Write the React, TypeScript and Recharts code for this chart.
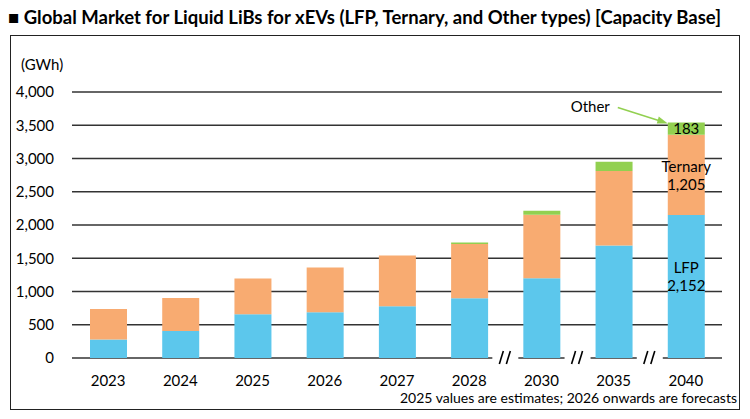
// @ts-nocheck
import { BarChart, Bar, XAxis, YAxis, CartesianGrid, LabelList } from 'recharts';

const years = ['2023', '2024', '2025', '2026', '2027', '2028', '2030', '2035', '2040'];
const lfp = [277, 406, 658, 688, 778, 899, 1200, 1692, 2152];
const ternary = [461, 497, 537, 673, 764, 817, 953, 1119, 1205];
const other = [0, 0, 0, 0, 0, 21, 60, 140, 183];
const yTicks = [0, 500, 1000, 1500, 2000, 2500, 3000, 3500, 4000];
const breakBefore = ['2030', '2035', '2040'];
const labelledYear = '2040';

const FONT = 'Lato, "Open Sans", sans-serif';
const BLUE = '#5CC7EC';
const ORANGE = '#F8AB71';
const GREEN = '#92D050';
const GRID = '#333';

// only the last year carries the in-bar labels
const data = years.map((year, i) => ({
  year,
  lfp: lfp[i],
  ternary: ternary[i],
  other: other[i],
  lfpNote: year === labelledYear ? lfp[i] : undefined,
  ternaryNote: year === labelledYear ? ternary[i] : undefined,
  otherNote: year === labelledYear ? other[i] : undefined,
}));

const fmt = (v: number) => v.toLocaleString('en-US');

function YearTick({ x, y, payload }: any) {
  const half = payload.offset || 36;
  const showBreak = breakBefore.includes(payload.value);
  const bx = x - half;
  return (
    <g>
      {showBreak && (
        <g>
          <rect x={bx - 13} y={y - 3} width={26} height={6} fill="#fff" />
          <line x1={bx - 6} y1={y + 6} x2={bx - 2} y2={y - 7} stroke="#000" strokeWidth={1.6} />
          <line x1={bx + 1} y1={y + 6} x2={bx + 5} y2={y - 7} stroke="#000" strokeWidth={1.6} />
        </g>
      )}
      <text x={x} y={y + 28} textAnchor="middle" fontSize={15} fill="#000" fontFamily={FONT}>
        {payload.value}
      </text>
    </g>
  );
}

const twoLine = (title: string, shift: number) => (props: any) => {
  const { x, y, width, height, value } = props;
  if (value === undefined || value === null) return null;
  const cx = x + width / 2;
  const cy = y + height / 2 + shift;
  return (
    <text textAnchor="middle" fontSize={15} fill="#000" fontFamily={FONT}>
      <tspan x={cx} y={cy - 3}>{title}</tspan>
      <tspan x={cx} y={cy + 15}>{fmt(value)}</tspan>
    </text>
  );
};

const otherLabel = (props: any) => {
  const { x, y, width, height, value } = props;
  if (value === undefined || value === null) return null;
  return (
    <g>
      <text x={x + width / 2} y={y + height / 2 + 5} textAnchor="middle" fontSize={15} fill="#000" fontFamily={FONT}>
        {fmt(value)}
      </text>
      <text x={x - 58} y={y - 11} textAnchor="end" fontSize={15} fill="#000" fontFamily={FONT}>
        Other
      </text>
      <line x1={x - 50} y1={y - 15} x2={x - 6} y2={y - 1} stroke={GREEN} strokeWidth={1.6} />
      <polygon points={`${x},${y + 1} ${x - 9},${y - 6} ${x - 11},${y + 1}`} fill={GREEN} />
    </g>
  );
};

export default function App() {
  return (
    <div style={{ position: 'absolute', left: 0, top: 0, width: 750, height: 419, background: '#fff', fontFamily: FONT }}>
      <div style={{ position: 'absolute', left: 8, top: 6, fontSize: 18.5, fontWeight: 700, color: '#000', whiteSpace: 'nowrap' }}>
        ■ Global Market for Liquid LiBs for xEVs (LFP, Ternary, and Other types) [Capacity Base]
      </div>
      <div style={{ position: 'absolute', left: 10, top: 35, width: 728, height: 373, border: '1px solid #222' }} />
      <div style={{ position: 'absolute', left: 21, top: 55, fontSize: 15, color: '#000' }}>(GWh)</div>
      <div style={{ position: 'absolute', right: 13, top: 389, fontSize: 14, color: '#000', whiteSpace: 'nowrap' }}>
        2025 values are estimates; 2026 onwards are forecasts
      </div>
      <div style={{ position: 'absolute', left: 0, top: 0 }}>
        <BarChart
          width={750}
          height={419}
          data={data}
          margin={{ top: 92, right: 28, left: 12, bottom: 31 }}
          barSize={37}
        >
          <CartesianGrid horizontal vertical={false} stroke={GRID} strokeWidth={1.4} />
          <XAxis
            dataKey="year"
            axisLine={false}
            tickLine={false}
            tickSize={0}
            tickMargin={0}
            height={30}
            interval={0}
            tick={<YearTick />}
          />
          <YAxis
            domain={[0, 4000]}
            ticks={yTicks}
            axisLine={false}
            tickLine={false}
            tickSize={0}
            tickMargin={18}
            width={60}
            tickFormatter={fmt}
            tick={{ fontSize: 15, fill: '#000', fontFamily: FONT }}
          />
          <Bar dataKey="lfp" stackId="a" fill={BLUE} isAnimationActive={false}>
            <LabelList dataKey="lfpNote" content={twoLine('LFP', -10)} />
          </Bar>
          <Bar dataKey="ternary" stackId="a" fill={ORANGE} isAnimationActive={false}>
            <LabelList dataKey="ternaryNote" content={twoLine('Ternary', 0)} />
          </Bar>
          <Bar dataKey="other" stackId="a" fill={GREEN} isAnimationActive={false}>
            <LabelList dataKey="otherNote" content={otherLabel} />
          </Bar>
        </BarChart>
      </div>
    </div>
  );
}
